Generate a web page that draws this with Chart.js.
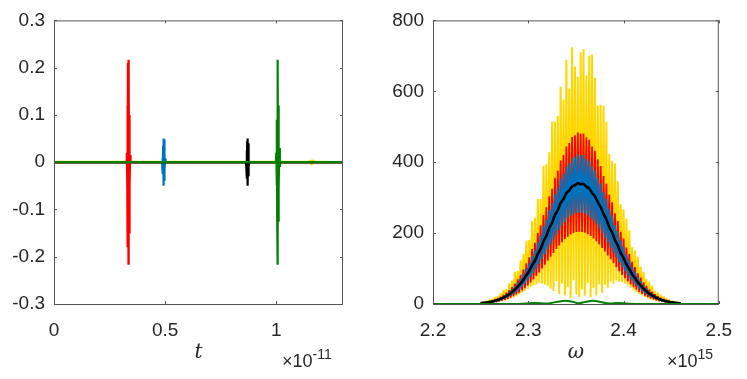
<!DOCTYPE html>
<html>
<head>
<meta charset="utf-8">
<script src="https://cdn.jsdelivr.net/npm/chart.js@4/dist/chart.umd.min.js"></script>
<style>
  html, body { margin: 0; padding: 0; background: #fff; }
  body { width: 747px; height: 379px; position: relative; overflow: hidden; }
  .panel { position: absolute; top: 0; height: 379px; }
  #leftBox  { left: 0;     width: 373px; }
  #rightBox { left: 373px; width: 374px; }
</style>
</head>
<body>
<div class="panel" id="leftBox"><canvas id="timeChart"></canvas></div>
<div class="panel" id="rightBox"><canvas id="specChart"></canvas></div>
<script>
// ---- time domain (t in units of 1e-11) ----
const tRed    = [0, 0.326, 0.328, 0.330, 0.331, 0.332, 0.333, 0.334, 0.335, 0.336, 0.337, 0.338, 0.339, 0.340, 0.342, 0.344, 1.3];
const yRed    = [0, 0, 0.02, -0.05, 0.12, -0.18, 0.21, -0.217, 0.217, -0.21, 0.19, -0.15, 0.1, -0.05, 0.015, 0, 0];
const tBlue   = [0, 0.486, 0.488, 0.490, 0.491, 0.492, 0.493, 0.494, 0.495, 0.496, 0.497, 0.498, 0.500, 0.502, 1.3];
const yBlue   = [0, 0, 0.01, -0.025, 0.035, -0.045, 0.05, -0.05, 0.048, -0.04, 0.03, -0.018, 0.008, 0, 0];
const tBlack  = [0, 0.863, 0.865, 0.867, 0.868, 0.869, 0.870, 0.871, 0.872, 0.873, 0.874, 0.875, 0.877, 0.879, 1.3];
const yBlack  = [0, 0, -0.01, 0.025, -0.035, 0.045, -0.05, 0.05, -0.048, 0.04, -0.03, 0.018, -0.008, 0, 0];
const tGreen  = [0, 0.998, 1.000, 1.002, 1.003, 1.004, 1.005, 1.006, 1.007, 1.008, 1.009, 1.010, 1.011, 1.012, 1.014, 1.016, 1.018, 1.3];
const yGreen  = [0, 0, 0.02, -0.05, 0.09, -0.12, 0.125, -0.217, 0.217, -0.125, 0.12, -0.09, 0.06, -0.05, 0.03, -0.01, 0, 0];
const tYellow = [0, 1.150, 1.154, 1.157, 1.160, 1.163, 1.166, 1.170, 1.23];
const yYellow = [0, 0, 0.003, -0.004, 0.005, -0.004, 0.003, 0, 0];

// ---- spectrum (omega in units of 1e15) ----
const omegaFine = [2.2500, 2.2515, 2.2530, 2.2545, 2.2560, 2.2575, 2.2590, 2.2605, 2.2620, 2.2635,
  2.2650, 2.2665, 2.2680, 2.2695, 2.2710, 2.2725, 2.2740, 2.2755, 2.2770, 2.2785,
  2.2800, 2.2815, 2.2830, 2.2845, 2.2860, 2.2875, 2.2890, 2.2905, 2.2920, 2.2935,
  2.2950, 2.2965, 2.2980, 2.2995, 2.3010, 2.3025, 2.3040, 2.3055, 2.3070, 2.3085,
  2.3100, 2.3115, 2.3130, 2.3145, 2.3160, 2.3175, 2.3190, 2.3205, 2.3220, 2.3235,
  2.3250, 2.3265, 2.3280, 2.3295, 2.3310, 2.3325, 2.3340, 2.3355, 2.3370, 2.3385,
  2.3400, 2.3415, 2.3430, 2.3445, 2.3460, 2.3475, 2.3490, 2.3505, 2.3520, 2.3535,
  2.3550, 2.3565, 2.3580, 2.3595, 2.3610, 2.3625, 2.3640, 2.3655, 2.3670, 2.3685,
  2.3700, 2.3715, 2.3730, 2.3745, 2.3760, 2.3775, 2.3790, 2.3805, 2.3820, 2.3835,
  2.3850, 2.3865, 2.3880, 2.3895, 2.3910, 2.3925, 2.3940, 2.3955, 2.3970, 2.3985,
  2.4000, 2.4015, 2.4030, 2.4045, 2.4060, 2.4075, 2.4090, 2.4105, 2.4120, 2.4135,
  2.4150, 2.4165, 2.4180, 2.4195, 2.4210, 2.4225, 2.4240, 2.4255, 2.4270, 2.4285,
  2.4300, 2.4315, 2.4330, 2.4345, 2.4360, 2.4375, 2.4390, 2.4405, 2.4420, 2.4435,
  2.4450, 2.4465, 2.4480, 2.4495, 2.4510, 2.4525, 2.4540, 2.4555, 2.4570, 2.4585,
  2.4600];
const specYellow = [4.8, 1.4, 6.8, 1.8, 7.8, 2.4, 11.6, 3.1, 14.4, 4.0,
  20, 5.1, 22, 6.5, 30, 8.1, 40, 10, 41, 12.5,
  58, 15, 67, 18.6, 90, 22, 93, 27, 125, 32,
  141, 37, 178, 43, 181, 48, 234, 52, 244, 55,
  296, 59, 296, 58, 389, 55, 394, 51, 428, 44,
  515, 36, 515, 65, 530, 28, 613, 58, 577, 24,
  689, 47, 608, 16, 724, 67, 670, 27, 641, 20,
  710, 41, 719, 23, 645, 59, 701, 19, 704, 46,
  638, 24, 560, 56, 562, 32, 559, 54, 514, 46,
  423, 63, 404, 57, 396, 66, 347, 62, 281, 62,
  267, 58, 241, 53, 208, 46, 160, 39, 151, 34,
  134, 28, 105, 24, 90, 20, 70, 16, 63, 13,
  51, 11, 37, 8.7, 33, 7, 25, 5.5, 21, 4.3,
  15, 3.4, 12, 2.6, 9, 2.0, 7, 1.5, 5, 1.2,
  4];
const specRed = [3.4, 1.7, 4.4, 2.2, 5.8, 2.9, 7.7, 3.7, 9.9, 4.8,
  12.8, 6.1, 16.2, 7.7, 20.4, 9.7, 25.6, 12.1, 31.7, 14.9,
  39.1, 18.4, 47.7, 22.3, 57.8, 26.9, 69.4, 32.2, 82.6, 38.1,
  97.7, 44.9, 115, 52.2, 132, 60.6, 155, 69.3, 173, 78.9,
  200, 89.1, 222, 99.9, 251, 111, 273, 122, 304, 133,
  325, 144, 356, 155, 376, 165, 405, 174, 420, 183,
  444, 190, 454, 196, 471, 200, 476, 203, 484, 204,
  480, 203, 481, 201, 470, 197, 463, 192, 444, 185,
  432, 177, 408, 168, 389, 158, 361, 148, 339, 137,
  308, 126, 287, 115, 256, 104, 234, 92.7, 204, 82.2,
  185, 72.6, 159, 63.3, 141, 54.9, 119, 47.3, 104, 40.4,
  86.6, 34.1, 74.6, 28.7, 61.1, 23.7, 51.1, 19.6, 41.5, 16.0,
  34.4, 13.1, 27.4, 10.5, 22.2, 8.4, 17.5, 6.6, 13.8, 5.2,
  10.8, 4.1, 8.4, 3.1, 6.4, 2.4, 4.8, 1.8, 3.7, 1.4,
  2.8];
const specBlue = [3.0, 2.1, 3.8, 2.7, 5.1, 3.6, 6.7, 4.7, 8.7, 6.1,
  11.2, 7.8, 14.1, 9.8, 17.9, 12.3, 22.3, 15.4, 27.7, 18.9,
  34.1, 23.3, 41.7, 28.3, 50.5, 34.0, 60.6, 40.7, 72.2, 48.3,
  85.3, 56.9, 100, 66.1, 115, 76.8, 135, 87.8, 151, 99.9,
  175, 113, 193, 127, 219, 140, 238, 154, 265, 168,
  284, 182, 311, 196, 329, 209, 353, 221, 367, 231,
  388, 241, 397, 248, 412, 253, 415, 257, 423, 258,
  419, 257, 420, 255, 410, 250, 404, 243, 388, 234,
  377, 225, 356, 213, 340, 201, 315, 187, 296, 173,
  269, 159, 250, 145, 223, 131, 205, 117, 179, 104,
  161, 92.0, 139, 80.2, 123, 69.5, 104, 59.9, 91.1, 51.1,
  75.6, 43.2, 65.1, 36.3, 53.3, 30.0, 44.6, 24.8, 36.2, 20.3,
  30.0, 16.6, 23.9, 13.3, 19.3, 10.6, 15.3, 8.4, 12.0, 6.6,
  9.4, 5.2, 7.3, 4.0, 5.6, 3.0, 4.2, 2.3, 3.2, 1.7,
  2.5];
const omega = [2.250, 2.253, 2.256, 2.259, 2.262, 2.265, 2.268, 2.271, 2.274, 2.277,
  2.280, 2.283, 2.286, 2.289, 2.292, 2.295, 2.298, 2.301, 2.304, 2.307,
  2.310, 2.313, 2.316, 2.319, 2.322, 2.325, 2.328, 2.331, 2.334, 2.337,
  2.340, 2.343, 2.346, 2.349, 2.352, 2.355, 2.358, 2.361, 2.364, 2.367,
  2.370, 2.373, 2.376, 2.379, 2.382, 2.385, 2.388, 2.391, 2.394, 2.397,
  2.400, 2.403, 2.406, 2.409, 2.412, 2.415, 2.418, 2.421, 2.424, 2.427,
  2.430, 2.433, 2.436, 2.439, 2.442, 2.445, 2.448, 2.451, 2.454, 2.457, 2.460];
const specBlack = [2.4, 3.1, 4.1, 5.4, 7.0, 9.0, 11.4, 14.4, 18.0, 22.3,
  27.5, 33.6, 40.7, 48.9, 58.2, 68.8, 81, 93, 109, 122,
  141, 156, 177, 192, 214, 229, 251, 265, 285, 296,
  313, 320, 332, 335, 341, 338, 339, 331, 326, 313,
  304, 287, 274, 254, 239, 217, 202, 180, 165, 144,
  130, 112, 99, 84, 73.5, 61, 52.5, 43, 36, 29.2,
  24.2, 19.3, 15.6, 12.3, 9.7, 7.6, 5.9, 4.5, 3.4, 2.6, 2.0];
const omegaGreen = [2.20, 2.28, 2.295, 2.307, 2.32, 2.33, 2.339, 2.347, 2.353, 2.36, 2.368, 2.377, 2.385, 2.394, 2.405, 2.42, 2.50];
const specGreen  = [0, 0, 1, 3, 1.5, 6, 9, 6, 2, 6, 9, 5, 1.5, 3, 1, 0, 0];

const C_RED = '#ff0000', C_BLUE = '#0072bd', C_BLACK = '#000000', C_GREEN = '#008000', C_YELLOW = '#ffd700';
const AXIS_COL = '#262626';
const TICK_FONT = { family: "'Liberation Sans', Arial, sans-serif", size: 19 };

const pts = (xs, ys) => xs.map((x, i) => ({ x, y: ys[i] }));
const fmt = v => String(+v.toFixed(2));

function line(data, color, width, order, extra) {
  return Object.assign({
    data, borderColor: color, borderWidth: width, order,
    pointRadius: 0, tension: 0, fill: false, borderJoinStyle: 'bevel'
  }, extra || {});
}

// box + inward ticks + axis label + exponent, MATLAB style
function matlabAxes(xTitle, expBase, expSup, expX) {
  return {
    id: 'matlabAxes',
    afterDraw(chart) {
      const { ctx, chartArea: a, scales: { x, y } } = chart;
      ctx.save();
      ctx.strokeStyle = '#555';
      ctx.lineWidth = 1;
      ctx.strokeRect(a.left + 0.5, a.top + 0.5, a.right - a.left - 1, a.bottom - a.top);
      ctx.beginPath();
      x.ticks.forEach(t => {
        const px = Math.round(x.getPixelForValue(t.value)) + 0.5;
        ctx.moveTo(px, a.bottom); ctx.lineTo(px, a.bottom - 3);
        ctx.moveTo(px, a.top);    ctx.lineTo(px, a.top + 3);
      });
      y.ticks.forEach(t => {
        const py = Math.round(y.getPixelForValue(t.value)) + 0.5;
        ctx.moveTo(a.left, py);  ctx.lineTo(a.left + 3, py);
        ctx.moveTo(a.right, py); ctx.lineTo(a.right - 3, py);
      });
      ctx.stroke();

      ctx.fillStyle = AXIS_COL;
      ctx.textAlign = 'center';
      ctx.textBaseline = 'alphabetic';
      ctx.font = "italic 20px 'DejaVu Serif', 'Liberation Serif', serif";
      ctx.fillText(xTitle, (a.left + a.right) / 2, 358);

      ctx.textAlign = 'left';
      ctx.font = "18px 'Liberation Sans', Arial, sans-serif";
      ctx.fillText(expBase, expX, 367);
      const w = ctx.measureText(expBase).width;
      ctx.font = "14px 'Liberation Sans', Arial, sans-serif";
      ctx.fillText(expSup, expX + w, 359);
      ctx.restore();
    }
  };
}

function baseOptions(xMin, xMax, xStep, yMin, yMax, yStep, yWidth, padRight) {
  return {
    responsive: true,
    maintainAspectRatio: false,
    animation: false,
    layout: { padding: { top: 16, right: padRight, left: 0, bottom: 0 } },
    plugins: { legend: { display: false }, tooltip: { enabled: false } },
    scales: {
      x: {
        type: 'linear', min: xMin, max: xMax,
        grid: { display: false, drawTicks: false }, border: { display: false },
        ticks: { stepSize: xStep, includeBounds: false, maxRotation: 0, autoSkip: false,
                 padding: 15, color: AXIS_COL, font: TICK_FONT, callback: fmt },
        afterFit: s => { s.height = 75; }
      },
      y: {
        type: 'linear', min: yMin, max: yMax,
        grid: { display: false, drawTicks: false }, border: { display: false },
        ticks: { stepSize: yStep, padding: 9, color: AXIS_COL, font: TICK_FONT, callback: fmt },
        afterFit: s => { s.width = yWidth; }
      }
    }
  };
}

new Chart(document.getElementById('timeChart'), {
  type: 'line',
  data: {
    datasets: [
      line(pts(tGreen, yGreen),   C_GREEN,  2.2, 0),
      line(pts(tBlack, yBlack),   C_BLACK,  2.2, 1),
      line(pts(tBlue, yBlue),     C_BLUE,   2.2, 2),
      line(pts(tRed, yRed),       C_RED,    2.4, 3),
      line(pts(tYellow, yYellow), C_YELLOW, 2.8, 4)
    ]
  },
  options: baseOptions(0, 1.3, 0.5, -0.3, 0.3, 0.1, 54, 30),
  plugins: [matlabAxes('t', '\u00d710', '-11', 282)]
});

new Chart(document.getElementById('specChart'), {
  type: 'line',
  data: {
    datasets: [
      line(pts(omegaGreen, specGreen), C_GREEN,  2,   0, { tension: 0.4 }),
      line(pts(omega, specBlack),      C_BLACK,  2.6, 1),
      line(pts(omegaFine, specBlue),   C_BLUE,   1.8, 2),
      line(pts(omegaFine, specRed),    C_RED,    1.8, 3),
      line(pts(omegaFine, specYellow), C_YELLOW, 2,   4)
    ]
  },
  options: baseOptions(2.2, 2.5, 0.1, 0, 800, 200, 60, 25),
  plugins: [matlabAxes('\u03c9', '\u00d710', '15', 667 - 373)]
});
</script>
</body>
</html>
